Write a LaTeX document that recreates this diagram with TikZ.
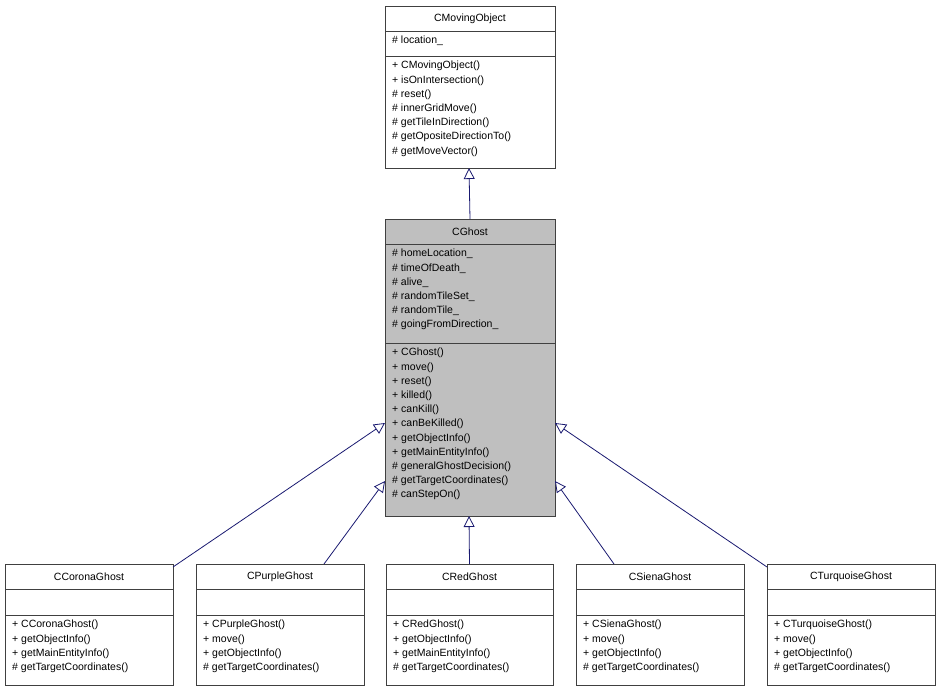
\documentclass[tikz,border=0pt]{standalone}
\usepackage{fontspec}
\setmainfont{Liberation Sans}
\usetikzlibrary{arrows.meta}
\definecolor{edge}{HTML}{191970}
\definecolor{gfill}{HTML}{BFBFBF}
\tikzset{
  box/.style={draw=black!75,line width=0.9pt},
  ttl/.style={inner sep=0pt,font=\fontsize{10.5}{13}\selectfont},
  txt/.style={inner sep=0pt,anchor=north west,align=left,font=\fontsize{10.5}{14.2}\selectfont},
  inh/.style={draw=edge,line width=0.8pt,-{Triangle[open,fill=white,length=11pt,width=11pt]}}
}
\def\myboxfill{white}
% name, x1, x2, ytop, ydiv2, ybottom, title, attrs, methods
\newcommand\myumlbox[9]{%
  \draw[box,fill=\myboxfill] (#2,#4) rectangle (#3,#6);
  \draw[box] (#2,#4+25) -- (#3,#4+25);
  \draw[box] (#2,#5) -- (#3,#5);
  \node[ttl] (#1-t) at ({(#2+#3)/2},#4+12.5) {#7};
  \node[txt] (#1-a) at (#2+7,#4+30) {#8};
  \node[txt] (#1-m) at (#2+7,#5+5) {#9};
  \coordinate (#1) at ({(#2+#3)/2},#4);
}
\begin{document}
\begin{tikzpicture}[x=1pt,y=-1pt]
\useasboundingbox (0,0) rectangle (940,691);
\myumlbox{mo}{385}{555}{6}{56}{168}{CMovingObject}{\# location\_}{+ CMovingObject()\\+ isOnIntersection()\\\# reset()\\\# innerGridMove()\\\# getTileInDirection()\\\# getOpositeDirectionTo()\\\# getMoveVector()}
\def\myboxfill{gfill}
\myumlbox{gh}{385}{555}{219}{343}{516}{CGhost}{\# homeLocation\_\\\# timeOfDeath\_\\\# alive\_\\\# randomTileSet\_\\\# randomTile\_\\\# goingFromDirection\_}{+ CGhost()\\+ move()\\+ reset()\\+ killed()\\+ canKill()\\+ canBeKilled()\\+ getObjectInfo()\\+ getMainEntityInfo()\\\# generalGhostDecision()\\\# getTargetCoordinates()\\\# canStepOn()}
\def\myboxfill{white}
\myumlbox{co}{5}{173}{564}{615}{685}{CCoronaGhost}{}{+ CCoronaGhost()\\+ getObjectInfo()\\+ getMainEntityInfo()\\\# getTargetCoordinates()}
\myumlbox{pu}{196}{364}{564}{615}{685}{CPurpleGhost}{}{+ CPurpleGhost()\\+ move()\\+ getObjectInfo()\\\# getTargetCoordinates()}
\myumlbox{re}{386}{553}{564}{615}{685}{CRedGhost}{}{+ CRedGhost()\\+ getObjectInfo()\\+ getMainEntityInfo()\\\# getTargetCoordinates()}
\myumlbox{si}{576}{744}{564}{615}{685}{CSienaGhost}{}{+ CSienaGhost()\\+ move()\\+ getObjectInfo()\\\# getTargetCoordinates()}
\myumlbox{tu}{767}{935}{564}{615}{685}{CTurquoiseGhost}{}{+ CTurquoiseGhost()\\+ move()\\+ getObjectInfo()\\\# getTargetCoordinates()}
\coordinate (ghb) at (469,516);
\coordinate (mob) at (469,168);
\coordinate (g1) at (385,423);
\coordinate (g2) at (385,481);
\coordinate (g3) at (555,481);
\coordinate (g4) at (555,423);
\coordinate (c1) at (173,567);
\coordinate (p1) at (324,564);
\coordinate (s1) at (614,564);
\coordinate (t1) at (767,567);
\draw[inh] (gh) -- (mob);
\draw[inh] (re) -- (ghb);
\draw[inh] (c1) -- (g1);
\draw[inh] (p1) -- (g2);
\draw[inh] (s1) -- (g3);
\draw[inh] (t1) -- (g4);
\end{tikzpicture}
\end{document}
